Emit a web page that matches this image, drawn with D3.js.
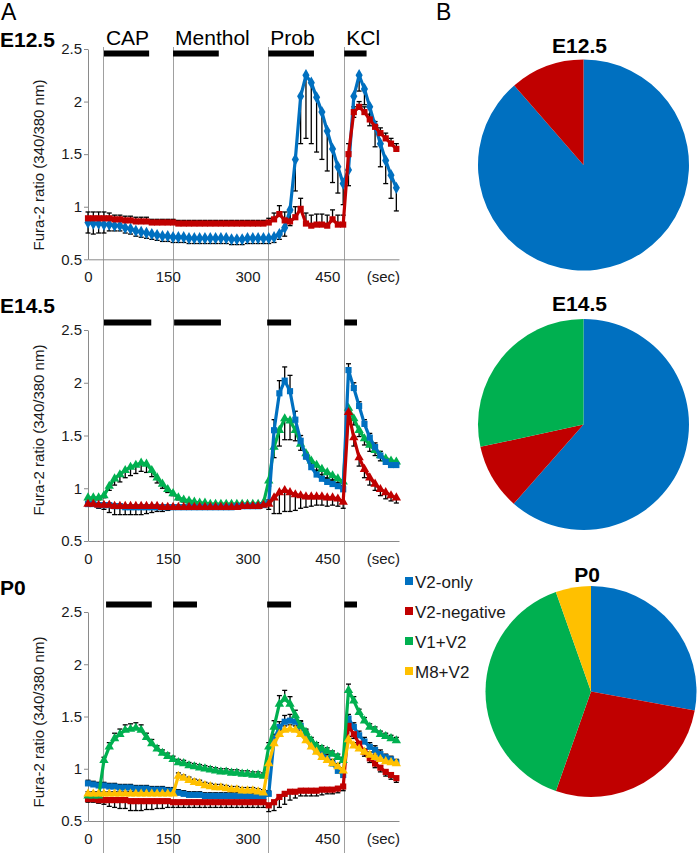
<!DOCTYPE html>
<html><head><meta charset="utf-8">
<script src="https://cdn.jsdelivr.net/npm/d3@7"></script>
<style>
body{margin:0;background:#fff}
svg{display:block}
text{font-family:Arial,"Liberation Sans",sans-serif}
</style>
</head><body>
<svg id="c" width="698" height="853"></svg>
<script>
// ---------- data ----------
const time = [0,10,20,30,40,50,60,70,80,90,100,110,120,130,140,150,160,170,180,190,200,210,220,230,240,250,260,270,280,290,300,310,320,330,340,350,360,370,380,390,400,410,420,430,440,450,460,470,480,490,500,510,520,530,540,550,560,570,580];
const stimTimes = [28,160,339,482];
const drugNames = ["CAP","Menthol","Prob","KCl"];
const barsE12 = [[30,115],[160,246],[339,425],[482,524]];
const barsE14 = [[30,119],[162,250],[337,382],[482,506]];
const barsP0  = [[34,120],[160,205],[337,382],[482,506]];
const yTicks = [0.5,1,1.5,2,2.5];
const xTicks = [0,150,300,450];
const groups = ["V2-only","V2-negative","V1+V2","M8+V2"];
const colors = ["#0070C0","#C00000","#00B050","#FFC000"];
const pieE12 = [88.6, 11.4];
const pieE14 = [61.5, 10.1, 28.4];
const pieP0  = [27.9, 27.5, 39.2, 5.4];

const e12Blue = [.85,.84,.84,.83,.83,.82,.82,.80,.79,.77,
.76,.75,.74,.73,.72,.72,.71,.71,.71,.70,
.70,.70,.70,.70,.70,.70,.70,.69,.69,.69,
.70,.70,.70,.70,.70,.71,.74,.80,.97,1.45,
2.05,2.25,2.18,2.04,1.90,1.72,1.55,1.38,1.22,1.35,
2.05,2.25,2.12,1.95,1.77,1.60,1.44,1.30,1.18];
const e12BlueErr = [.10,.10,.09,.08,.06,.05,.05,.05,.05,.05,
.05,.05,.05,.05,.05,.05,.05,.05,.05,.05,
.05,.05,.05,.05,.05,.05,.05,.05,.05,.05,
.05,.05,.05,.05,.05,.05,.05,.08,.15,.30,
.45,.60,.58,.52,.45,.38,.32,.25,.20,.15,
.20,.15,.15,.18,.20,.22,.22,.22,.22];
const e12Red = [.89,.89,.89,.89,.89,.88,.88,.87,.87,.86,
.86,.86,.85,.85,.85,.85,.85,.84,.84,.84,
.84,.84,.84,.84,.84,.84,.84,.84,.84,.84,
.84,.84,.84,.84,.85,.88,.93,.87,.86,.90,
.98,.84,.82,.83,.83,.82,.88,.83,.83,1.50,
1.90,1.95,1.90,1.83,1.76,1.70,1.65,1.60,1.55];
const e12RedErr = [.06,.06,.06,.06,.05,.04,.04,.04,.04,.04,
.04,.04,.03,.03,.03,.03,.03,.03,.03,.03,
.03,.03,.03,.03,.03,.03,.03,.03,.03,.03,
.03,.03,.03,.03,.04,.06,.08,.08,.09,.10,
.10,.10,.10,.10,.10,.10,.09,.09,.09,.10,
.05,.05,.05,.05,.05,.05,.05,.05,.05];

const e14Blue = [.85,.85,.84,.84,.84,.83,.83,.82,.82,.82,
.82,.82,.82,.82,.82,.82,.82,.82,.82,.82,
.82,.82,.82,.82,.82,.82,.82,.82,.83,.83,
.83,.83,.83,.84,.86,1.55,1.90,2.02,1.92,1.65,
1.45,1.30,1.20,1.13,1.09,1.06,1.04,1.02,.99,2.12,
1.95,1.78,1.61,1.48,1.39,1.31,1.25,1.22,1.22];
const e14BlueErr = [.02,.02,.02,.02,.02,.02,.02,.02,.02,.02,
.02,.02,.02,.02,.02,.02,.02,.02,.02,.02,
.02,.02,.02,.02,.02,.02,.02,.02,.02,.02,
.02,.02,.02,.02,.03,.10,.12,.13,.15,.08,
.05,.04,.04,.04,.04,.03,.03,.03,.03,.06,
.05,.04,.04,.04,.04,.04,.04,.03,.03];
const e14Green = [.91,.91,.91,.93,1.02,1.09,1.13,1.17,1.20,1.22,
1.24,1.23,1.17,1.10,1.04,.99,.95,.91,.89,.88,
.87,.86,.86,.85,.85,.85,.85,.85,.85,.85,
.85,.85,.85,.86,1.07,1.39,1.55,1.66,1.64,1.55,
1.42,1.33,1.26,1.22,1.18,1.15,1.12,1.09,1.06,1.76,
1.66,1.55,1.47,1.41,1.36,1.31,1.28,1.26,1.25];
const e14GreenErr = [.02,.02,.02,.02,.04,.06,.07,.07,.08,.08,
.08,.08,.06,.05,.04,.03,.02,.02,.02,.02,
.02,.02,.02,.02,.02,.02,.02,.02,.02,.02,
.02,.02,.02,.02,.05,.10,.15,.20,.18,.10,
.06,.05,.05,.05,.05,.05,.04,.04,.04,.05,
.06,.06,.06,.06,.05,.05,.05,.04,.04];
const e14Red = [.85,.85,.84,.84,.84,.83,.83,.83,.83,.83,
.83,.83,.83,.83,.82,.82,.82,.82,.82,.82,
.82,.82,.82,.82,.82,.82,.82,.82,.82,.83,
.83,.83,.83,.84,.85,.91,.96,.98,.96,.94,
.93,.92,.92,.92,.92,.91,.91,.90,.87,1.72,
1.48,1.29,1.18,1.10,1.04,.99,.96,.93,.91];
const e14RedErr = [.02,.02,.03,.04,.07,.08,.08,.08,.08,.08,
.08,.07,.06,.05,.04,.03,.02,.02,.02,.02,
.02,.02,.02,.02,.02,.02,.02,.02,.02,.02,
.02,.02,.02,.02,.05,.15,.20,.20,.18,.15,
.12,.10,.09,.08,.08,.08,.07,.07,.06,.05,
.08,.08,.08,.07,.06,.06,.06,.05,.05];

const p0Blue = [.86,.85,.84,.84,.83,.83,.82,.82,.82,.81,
.81,.81,.80,.80,.80,.79,.79,.77,.76,.75,
.75,.75,.74,.74,.74,.74,.74,.74,.74,.74,
.74,.73,.73,.73,.76,1.28,1.40,1.45,1.46,1.45,
1.41,1.33,1.24,1.18,1.14,1.10,1.05,.98,.94,1.48,
1.40,1.32,1.26,1.21,1.18,1.14,1.11,1.09,1.06];
const p0BlueErr = [.03,.03,.03,.03,.03,.03,.03,.03,.03,.03,
.03,.03,.03,.03,.03,.03,.03,.03,.03,.03,
.03,.03,.03,.03,.03,.03,.03,.03,.03,.03,
.03,.03,.03,.03,.03,.05,.05,.06,.06,.05,
.05,.04,.04,.04,.04,.04,.04,.04,.04,.04,
.04,.04,.04,.04,.04,.04,.03,.03,.03];
const p0Red = [.71,.71,.70,.70,.70,.70,.70,.70,.69,.69,
.69,.69,.69,.69,.69,.69,.68,.68,.68,.68,
.68,.68,.68,.68,.68,.68,.68,.68,.68,.68,
.68,.68,.68,.68,.65,.68,.73,.76,.78,.78,
.79,.79,.79,.79,.80,.80,.80,.81,.83,1.41,
1.33,1.24,1.16,1.10,1.05,1.01,.97,.94,.91];
const p0RedErr = [.03,.03,.03,.04,.06,.07,.08,.08,.09,.09,
.09,.08,.08,.07,.07,.06,.05,.05,.05,.05,
.05,.05,.05,.05,.05,.05,.05,.05,.05,.05,
.05,.05,.05,.05,.06,.08,.10,.10,.08,.06,
.05,.05,.05,.05,.05,.04,.04,.04,.04,.04,
.04,.04,.04,.04,.04,.04,.04,.04,.04];
const p0Green = [.74,.74,.74,1.08,1.21,1.29,1.33,1.37,1.38,1.39,
1.37,1.30,1.24,1.19,1.15,1.12,1.09,1.06,1.05,1.03,
1.02,1.01,1.00,.99,.98,.97,.97,.96,.96,.95,
.95,.94,.94,.93,1.21,1.40,1.62,1.67,1.62,1.51,
1.41,1.35,1.27,1.22,1.19,1.17,1.14,1.11,1.08,1.75,
1.65,1.54,1.46,1.40,1.37,1.33,1.31,1.29,1.27];
const p0GreenErr = [.02,.02,.02,.03,.04,.05,.05,.05,.05,.05,
.05,.04,.04,.03,.03,.03,.03,.03,.03,.03,
.03,.03,.03,.03,.03,.03,.03,.03,.03,.03,
.03,.03,.03,.03,.04,.06,.08,.08,.07,.05,
.04,.03,.03,.03,.03,.03,.03,.03,.03,.06,
.04,.03,.03,.03,.03,.03,.03,.03,.03];
const p0Yellow = [.76,.76,.76,.76,.76,.76,.76,.76,.76,.76,
.76,.76,.76,.76,.76,.76,.76,.93,.91,.89,
.87,.86,.84,.83,.82,.82,.81,.80,.80,.79,
.79,.79,.78,.77,1.05,1.24,1.33,1.37,1.38,1.37,
1.33,1.27,1.21,1.16,1.11,1.08,1.05,1.02,.98,1.28,
1.22,1.19,1.16,1.13,1.11,1.09,1.07,1.06,1.05];
const p0YellowErr = [.02,.02,.02,.02,.02,.02,.02,.02,.02,.02,
.02,.02,.02,.02,.02,.02,.02,.03,.03,.03,
.03,.03,.03,.03,.03,.03,.03,.03,.03,.03,
.03,.03,.03,.03,.04,.04,.04,.04,.04,.04,
.04,.03,.03,.03,.03,.03,.03,.03,.03,.03,
.03,.03,.03,.03,.03,.03,.03,.03,.03];

// ---------- drawing ----------
const FONT = 'Arial,"Liberation Sans",sans-serif';
const svg = d3.select("#c");
const x = d3.scaleLinear().domain([0,585]).range([88,399]);

const panels = [
  {label:"E12.5", labelY:47, top:49, bottom:259.3, titleY:165, bars:barsE12, names:true,
   series:[{v:e12Blue,e:e12BlueErr,dir:-1,c:0,sym:d3.symbolDiamond,sz:44},
           {v:e12Red,e:e12RedErr,dir:1,c:1,sym:d3.symbolSquare,sz:38}]},
  {label:"E14.5", labelY:313, top:330, bottom:541, titleY:430, bars:barsE14, names:false,
   series:[{v:e14Green,e:e14GreenErr,dir:-1,c:2,sym:d3.symbolTriangle,sz:38},
           {v:e14Blue,e:e14BlueErr,dir:1,c:0,sym:d3.symbolSquare,sz:38},
           {v:e14Red,e:e14RedErr,dir:-1,c:1,sym:d3.symbolTriangle,sz:38}]},
  {label:"P0", labelY:595, top:612, bottom:821, titleY:722, bars:barsP0, names:false,
   series:[{v:p0Blue,e:p0BlueErr,dir:1,c:0,sym:d3.symbolSquare,sz:38},
           {v:p0Red,e:p0RedErr,dir:-1,c:1,sym:d3.symbolSquare,sz:38},
           {v:p0Green,e:p0GreenErr,dir:1,c:2,sym:d3.symbolTriangle,sz:38},
           {v:p0Yellow,e:p0YellowErr,dir:1,c:3,sym:d3.symbolTriangle,sz:38}]}
];

// panel letters
svg.append("text").attr("x",1).attr("y",20).attr("font-size",23).attr("font-family",FONT).text("A");
svg.append("text").attr("x",436).attr("y",20).attr("font-size",23).attr("font-family",FONT).text("B");

// stimulus lines spanning all panels
svg.append("g").selectAll("line").data(stimTimes).join("line")
  .attr("x1",d=>Math.round(x(d))+0.5).attr("x2",d=>Math.round(x(d))+0.5)
  .attr("y1",47).attr("y2",853).attr("stroke","#a0a0a0").attr("stroke-width",1);

panels.forEach(p=>{
  const y = d3.scaleLinear().domain([0.5,2.5]).range([p.bottom,p.top]);
  const g = svg.append("g");

  g.append("text").attr("x",0).attr("y",p.labelY).attr("font-size",21).attr("font-weight","bold")
    .attr("font-family",FONT).text(p.label);

  const barY = p.top + (p.names ? 1.5 : -10.5);
  g.selectAll("rect.bar").data(p.bars).join("rect").attr("class","bar")
    .attr("x",d=>x(d[0])).attr("width",d=>x(d[1])-x(d[0]))
    .attr("y",barY).attr("height",6).attr("fill","#000");
  if(p.names){
    g.selectAll("text.drug").data(p.bars).join("text").attr("class","drug")
      .attr("x",(d)=>x(d[0])+2).attr("y",45).attr("font-size",21).attr("font-family",FONT)
      .text((d,i)=>drugNames[i]);
  }

  const ya = g.append("g").attr("transform",`translate(${x(0)},0)`)
    .call(d3.axisLeft(y).tickValues(yTicks).tickFormat(d3.format("~g")).tickSize(4).tickSizeOuter(0).tickPadding(2));
  ya.attr("font-family",null).attr("font-size",null);
  ya.select(".domain").attr("stroke","#8a8a8a");
  ya.selectAll(".tick line").attr("stroke","#8a8a8a");
  ya.selectAll(".tick text").attr("font-size",15).attr("font-family",FONT).attr("fill","#1a1a1a");

  const xa = g.append("g").attr("transform",`translate(0,${p.bottom})`)
    .call(d3.axisBottom(x).tickValues(xTicks).tickSize(0).tickSizeOuter(0).tickPadding(12));
  xa.attr("font-family",null).attr("font-size",null);
  xa.select(".domain").attr("stroke","#8a8a8a");
  xa.selectAll(".tick text").attr("font-size",15).attr("font-family",FONT).attr("fill","#1a1a1a");
  g.append("text").attr("x",x(585)+1).attr("y",p.bottom+12).attr("dy","0.71em")
    .attr("text-anchor","end").attr("font-size",15).attr("font-family",FONT).attr("fill","#1a1a1a").text("(sec)");

  g.append("text").attr("transform",`translate(44,${p.titleY}) rotate(-90)`)
    .attr("text-anchor","middle").attr("font-size",15).attr("font-family",FONT).attr("fill","#1a1a1a")
    .text("Fura-2 ratio (340/380 nm)");

  // error bars
  p.series.forEach(s=>{
    const eg = g.append("g").attr("stroke","#000").attr("stroke-width",1.3);
    s.v.forEach((v,i)=>{
      const xx = x(time[i]);
      const y1 = y(v), y2 = y(v + s.dir*s.e[i]);
      eg.append("line").attr("x1",xx).attr("x2",xx).attr("y1",y1).attr("y2",y2);
      eg.append("line").attr("x1",xx-2.5).attr("x2",xx+2.5).attr("y1",y2).attr("y2",y2);
    });
  });

  // series
  p.series.forEach(s=>{
    const col = colors[s.c];
    g.append("path").datum(s.v)
      .attr("d",d3.line().x((d,i)=>x(time[i])).y(d=>y(d)))
      .attr("fill","none").attr("stroke",col).attr("stroke-width",3.2).attr("stroke-linejoin","round");
    g.append("g").selectAll("path").data(s.v).join("path")
      .attr("transform",(d,i)=>`translate(${x(time[i])},${y(d)})`)
      .attr("d",d3.symbol().type(s.sym).size(s.sz)).attr("fill",col);
  });
});

// pies
const pies = [
  {title:"E12.5", vals:pieE12, cx:583.5, cy:165, ty:53},
  {title:"E14.5", vals:pieE14, cx:583.5, cy:424.5, ty:311},
  {title:"P0", vals:pieP0, cx:591, cy:691.5, ty:582}
];
const arc = d3.arc().innerRadius(0).outerRadius(105.5);
pies.forEach(pp=>{
  const g = svg.append("g").attr("transform",`translate(${pp.cx},${pp.cy})`);
  g.selectAll("path").data(d3.pie().sort(null)(pp.vals)).join("path")
    .attr("d",arc).attr("fill",(d,i)=>colors[i]);
  svg.append("text").attr("x",pp.cx-4).attr("y",pp.ty).attr("text-anchor","middle")
    .attr("font-size",21).attr("font-weight","bold").attr("font-family",FONT).text(pp.title);
});

// legend
const lg = svg.append("g");
groups.forEach((name,i)=>{
  lg.append("rect").attr("x",405).attr("y",577+i*30).attr("width",8).attr("height",8).attr("fill",colors[i]);
  lg.append("text").attr("x",415).attr("y",588+i*30).attr("font-size",17).attr("font-family",FONT)
    .attr("fill","#1a1a1a").text(name);
});
</script>
</body></html>
